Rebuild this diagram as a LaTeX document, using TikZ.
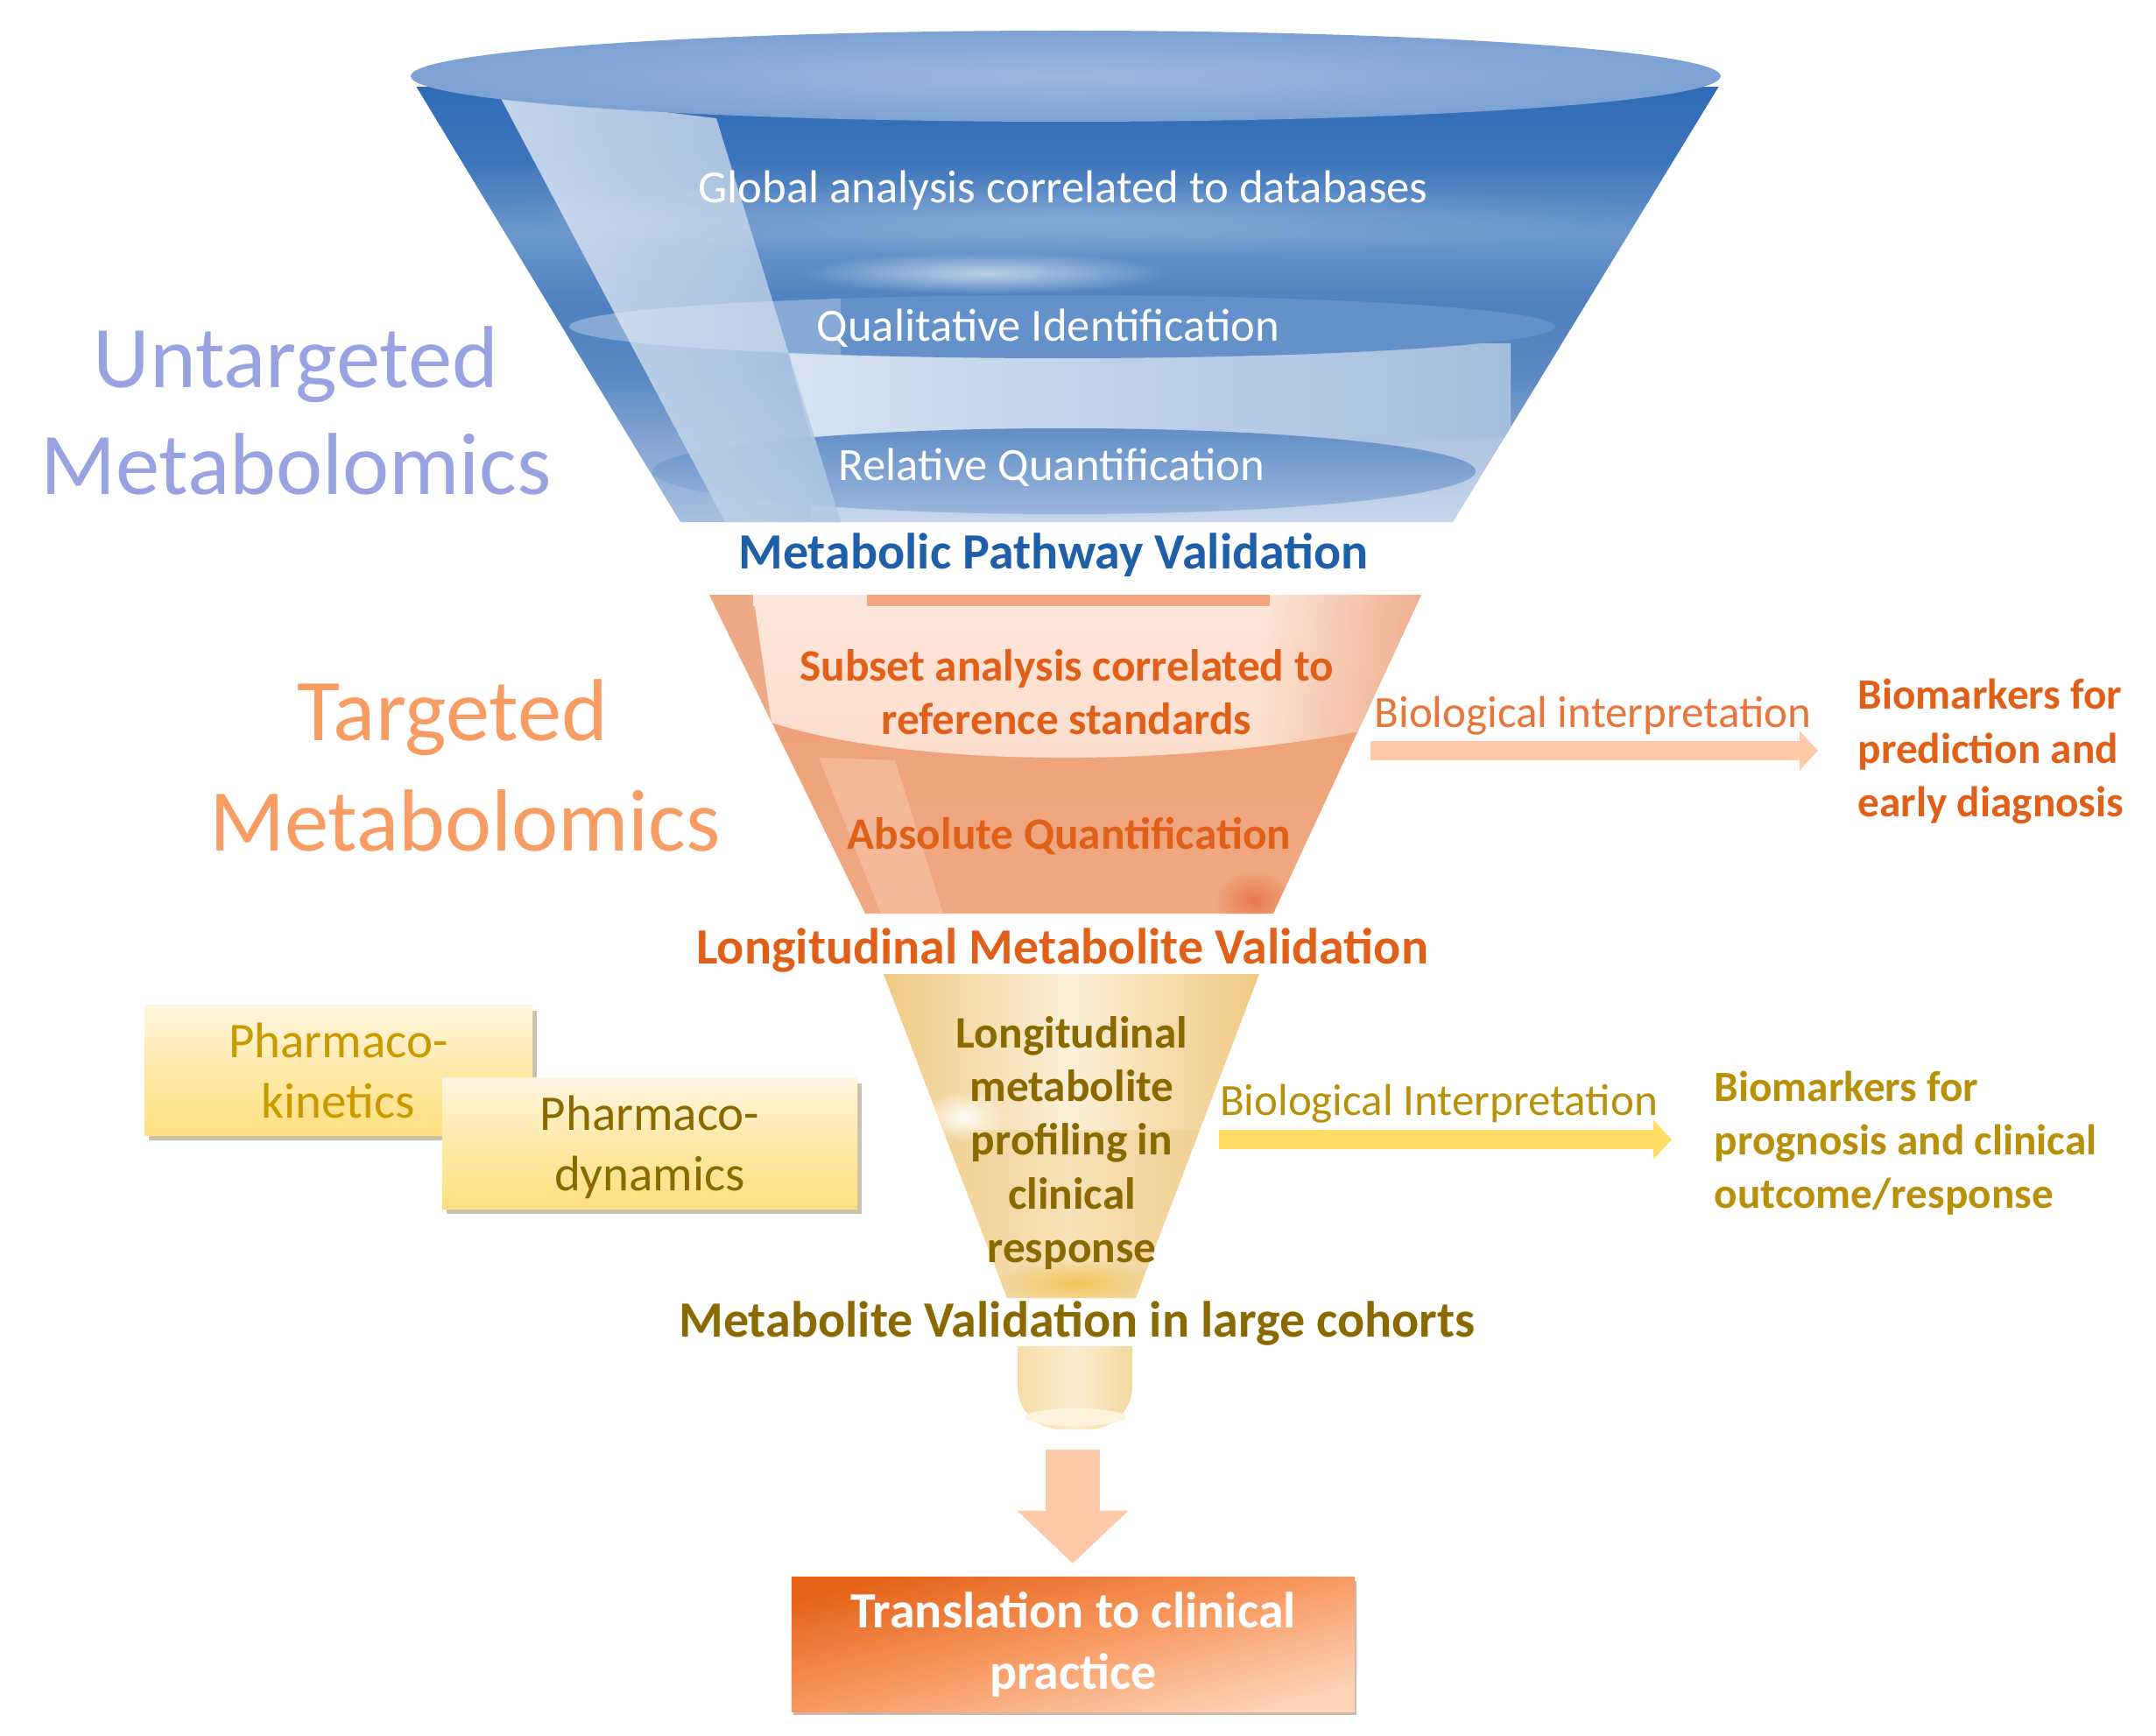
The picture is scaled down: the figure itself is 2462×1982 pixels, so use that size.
\documentclass[tikz,border=0pt]{standalone}
\usepackage{fontspec}
\setmainfont{Carlito}
\usetikzlibrary{arrows.meta,shadows,fadings}
% 1 unit = 1 reference pixel (0.01cm); y runs downward
\definecolor{bluehead}{HTML}{1F5EA8}
\definecolor{orangetxt}{HTML}{E0601A}
\definecolor{goldtxt}{HTML}{8A6A00}
\definecolor{goldlight}{HTML}{B8900A}
\definecolor{untitle}{HTML}{9AA3E2}
\definecolor{tatitle}{HTML}{F79C62}
\definecolor{arroworange}{HTML}{FDC9A9}
\definecolor{arrowgold}{HTML}{FFDD66}
\definecolor{bA}{HTML}{306CB6}
\definecolor{bB}{HTML}{3C74BA}
\definecolor{bC}{HTML}{6B97CC}
\definecolor{bD}{HTML}{4E80C0}
\definecolor{bE}{HTML}{5A88C4}
\definecolor{bF}{HTML}{86A6D2}
\definecolor{bG}{HTML}{A8C0E0}
\definecolor{lidin}{HTML}{9DB8DE}
\definecolor{lidout}{HTML}{7DA2D3}
\definecolor{paleL}{HTML}{DCE6F3}
\definecolor{paleR}{HTML}{AFC6E3}
\definecolor{rectL}{HTML}{D6E2F1}
\definecolor{rectR}{HTML}{A4BEDF}
\definecolor{midE}{HTML}{6591CA}
\definecolor{lowT}{HTML}{628EC7}
\definecolor{lowB}{HTML}{9AB6DC}
\definecolor{oTop}{HTML}{F4A67E}
\definecolor{oBase}{HTML}{EE9E72}
\definecolor{oBaseB}{HTML}{F0A882}
\definecolor{oEdge}{HTML}{E8956A}
\definecolor{oLight}{HTML}{FDE7DC}
\definecolor{oLightB}{HTML}{FCDCCB}
\definecolor{oPale}{HTML}{F7C6AC}
\definecolor{oSpot}{HTML}{E67A48}
\definecolor{gEdge}{HTML}{EFC87F}
\definecolor{gMid}{HTML}{FCF0D8}
\definecolor{gSpot}{HTML}{F0C458}
\definecolor{sEdgeL}{HTML}{F5DCA6}
\definecolor{sMid}{HTML}{FBEED0}
\definecolor{sEdgeR}{HTML}{F3D89E}
\definecolor{sLid}{HTML}{FDF3DC}
\definecolor{boxT}{HTML}{FFF6E0}
\definecolor{boxM}{HTML}{FFE9A8}
\definecolor{boxB}{HTML}{FFDF7F}
\definecolor{boxS}{HTML}{C9C2AE}
\definecolor{kinT}{HTML}{C89A00}
\definecolor{clinA}{HTML}{E5641A}
\definecolor{clinM}{HTML}{F89A62}
\definecolor{clinB}{HTML}{FDD3B8}
\definecolor{clinS}{HTML}{D0B8A8}
\definecolor{bioO}{HTML}{E8753A}
\tikzfading[name=fadeL, left color=transparent!100, right color=transparent!0]
\tikzfading[name=softc, inner color=transparent!0, outer color=transparent!100]
\pgfdeclareverticalshading{bluebody}{100bp}{
 color(0bp)=(bG);
 color(25bp)=(bG);
 color(34bp)=(bF);
 color(42bp)=(bE);
 color(50bp)=(bD);
 color(58bp)=(bC);
 color(67bp)=(bB);
 color(75bp)=(bA);
 color(100bp)=(bA)}
\tikzset{
  x=0.01cm, y=-0.01cm,
  lbl/.style={inner sep=0pt, align=center},
  big/.style={lbl, font=\fontsize{28.6}{34.5}\selectfont},
  white lbl/.style={lbl, text=white, font=\fontsize{15}{18}\selectfont},
  stage/.style={lbl, font=\bfseries\fontsize{16.5}{20}\selectfont},
  inner lbl/.style={lbl, font=\bfseries\fontsize{14.6}{17.4}\selectfont},
  side lbl/.style={lbl, font=\fontsize{14.5}{17.4}\selectfont},
  note/.style={inner sep=0pt, align=left, font=\bfseries\fontsize{14}{17.4}\selectfont},
  soft/.style={path fading=softc},
  pk box/.style={inner sep=0pt, align=center,
    font=\fontsize{16.2}{19.6}\selectfont,
    top color=boxT, bottom color=boxB, middle color=boxM,
    drop shadow={shadow xshift=0.05cm, shadow yshift=-0.06cm, fill=boxS, opacity=1}},
  fat orange/.style={line width=0.21cm, draw=arroworange,
    -{Triangle[length=0.21cm,width=0.44cm]}},
  fat gold/.style={line width=0.22cm, draw=arrowgold,
    -{Triangle[length=0.21cm,width=0.44cm]}},
  fat down/.style={line width=0.62cm, draw=arroworange,
    -{Triangle[length=0.60cm,width=1.23cm]}},
}
\begin{document}
\begin{tikzpicture}
\useasboundingbox (0,0) rectangle (2462,1982);
\fill[white] (0,0) rectangle (2462,1982);

% ---------- blue funnel ----------
\begin{scope}
  \clip (473,95) -- (1965,95) -- (1659,596) -- (777,596) -- cycle;
  \shade[shading=bluebody] (440,100) rectangle (2000,596);
  \fill[white,opacity=.35] (926,500) rectangle (2000,596);
  \shade[left color=rectL, right color=rectR] (897,392) -- (1725,392) -- (1725,500) -- (926,500) -- cycle;
  \fill[midE] (1213,373) ellipse [x radius=563, y radius=36];
  \shade[top color=lowT, bottom color=lowB] (1215,538) ellipse [x radius=470, y radius=49];
  \shade[left color=paleL, right color=paleR, opacity=.85]
     (568,105) -- (818,135) -- (960,596) -- (828,596) -- cycle;
  \fill[white,opacity=.22,soft] (1217,248) ellipse [x radius=700, y radius=45];
  \fill[white,opacity=.6,soft] (1125,312) ellipse [x radius=210, y radius=24];
  \begin{scope}
    \clip (640,330) rectangle (960,420);
    \fill[white,opacity=.22] (1213,373) ellipse [x radius=563, y radius=36];
  \end{scope}
\end{scope}
\shade[inner color=lidin, outer color=lidout] (1217,87) ellipse [x radius=748, y radius=52];

\node[white lbl] (global) at (1214,217) {Global analysis correlated to databases};
\node[white lbl] (qual) at (1197,375) {Qualitative Identification};
\node[white lbl] (rel) at (1201,534) {Relative Quantification};
\node[stage,text=bluehead] (pathway) at (1203,634) {Metabolic Pathway Validation};

% ---------- orange funnel ----------
\begin{scope}
  \clip (810,679) -- (1623,679) -- (1454,1043) -- (988,1043) -- cycle;
  \shade[top color=oBase, bottom color=oBaseB] (800,679) rectangle (1640,1043);
  \fill[oTop] (990,679) rectangle (1450,700);
  \fill[oPale,opacity=.6] (935,865) -- (1022,868) -- (1077,1043) -- (1006,1043) -- cycle;
  \fill[oEdge!75!oLight] (800,679) -- (860,679) -- (881,825) -- (800,825) -- cycle;
  \fill[oLight] (860,679) rectangle (990,692);
  \fill[oLight] (1450,679) rectangle (1640,692);
  \begin{scope}
    \clip (860,679) -- (990,679) -- (990,692) -- (1450,692) -- (1450,679) -- (1640,679)
      -- (1640,815) .. controls (1400,880) and (1050,880) .. (881,825) -- cycle;
    \shade[top color=oLight, bottom color=oLightB] (860,679) rectangle (1640,880);
    \fill[oEdge,path fading=fadeL,opacity=.7] (1440,670) rectangle (1630,880);
  \end{scope}
  \fill[oSpot,soft] (1432,1028) ellipse [x radius=45, y radius=34];
\end{scope}
\node[inner lbl,text=orangetxt] (subset) at (1218,790) {Subset analysis correlated to\\reference standards};
\node[inner lbl,text=orangetxt] (abs) at (1221,955) {Absolute Quantification};
\node[stage,text=orangetxt] (longval) at (1213,1085) {Longitudinal Metabolite Validation};

% ---------- gold funnel ----------
\begin{scope}
  \clip (1009,1112) -- (1438,1112) -- (1297,1482) -- (1150,1482) -- cycle;
  \shade[left color=gEdge, right color=gEdge, middle color=gMid] (1000,1112) rectangle (1445,1482);
  \fill[gEdge,opacity=.35] (1000,1290) -- (1445,1290) -- (1445,1482) -- (1000,1482) -- cycle;
  \fill[white,opacity=.9,soft] (1100,1275) ellipse [x radius=50, y radius=30];
  \fill[gSpot,soft] (1229,1465) ellipse [x radius=95, y radius=28];
\end{scope}
\node[inner lbl,text=goldtxt,font=\bfseries\fontsize{14.6}{17.4}\selectfont] (lm) at (1224,1305)
  {Longitudinal\\metabolite\\profiling in\\clinical\\response};
\node[stage,text=goldtxt] (cohort) at (1230,1511) {Metabolite Validation in large cohorts};

% ---------- spout ----------
\shade[left color=sEdgeL, right color=sEdgeR, middle color=sMid]
   (1162,1537) -- (1293,1537) {[rounded corners=14] -- (1293,1632) -- (1162,1632)} -- cycle;
\fill[sLid] (1228,1618) ellipse [x radius=58, y radius=10];

% ---------- side arrows and labels ----------
\coordinate (o1) at (1565,857);
\coordinate (o2) at (2076,857);
\draw[fat orange] (o1) -- (o2);
\node[side lbl,text=bioO] (bio1) at (1819,817) {Biological interpretation};
\node[note,text=orangetxt,anchor=west] (bm1) at (2121,858) {Biomarkers for\\prediction and\\early diagnosis};

\coordinate (g1) at (1392,1301);
\coordinate (g2) at (1909,1301);
\draw[fat gold] (g1) -- (g2);
\node[side lbl,text=goldlight] (bio2) at (1643,1260) {Biological Interpretation};
\node[note,text=goldlight,anchor=west] (bm2) at (1957,1305) {Biomarkers for\\prognosis and clinical\\outcome/response};

% ---------- titles ----------
\node[big,text=untitle] (untg) at (338,469) {Untargeted\\Metabolomics};
\node[big,text=tatitle] (tg1) at (517,819) {Targeted};
\node[big,text=tatitle] (tg2) at (531,937) {Metabolomics};

% ---------- PK/PD boxes ----------
\node[pk box, minimum width=4.43cm, minimum height=1.485cm, text=kinT] (pk) at (386.5,1222) {Pharmaco-\\kinetics};
\node[pk box, minimum width=4.74cm, minimum height=1.49cm, text=goldtxt] (pd) at (742,1305.5) {\rule{0pt}{13.5pt}Pharmaco-\\dynamics};

% ---------- bottom ----------
\node[inner sep=0pt, minimum width=6.43cm, minimum height=1.53cm, align=center,
      text=white, font=\bfseries\fontsize{16.5}{20}\selectfont,
      top color=clinA, bottom color=clinB, middle color=clinM, shading angle=14,
      drop shadow={shadow xshift=0.02cm, shadow yshift=-0.04cm, fill=clinS, opacity=1}]
      (clin) at (1225.5,1877.5) {Translation to clinical\\practice};
\coordinate (d1) at (1225,1655);
\coordinate (d2) at (1225,1785);
\draw[fat down] (d1) -- (d2);
\end{tikzpicture}
\end{document}
